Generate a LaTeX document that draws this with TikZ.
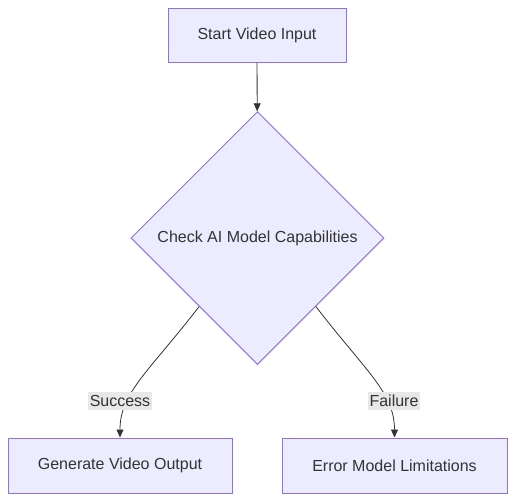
\documentclass[tikz,border=0pt]{standalone}
\usepackage{fontspec}
\setmainfont{Liberation Sans}
\usetikzlibrary{shapes.geometric,arrows.meta,calc}

\definecolor{boxfill}{HTML}{ECECFF}
\definecolor{boxline}{HTML}{9370DB}
\definecolor{ink}{HTML}{333333}
\definecolor{lblfill}{HTML}{E8E8E8}

\tikzset{every picture/.style={line width=0.75pt}}
\tikzset{
  stepbox/.style={draw=boxline, fill=boxfill, line width=1pt, text=ink,
    font=\fontsize{16}{19}\selectfont, inner sep=0pt},
  decision/.style={stepbox, diamond, aspect=1, minimum width=253pt, minimum height=253pt},
  edgelbl/.style={fill=lblfill, text=ink, font=\fontsize{16}{19}\selectfont,
    inner xsep=2pt, inner ysep=3.5pt},
  arr/.style={draw=ink, line width=0.8pt, -{Triangle[length=8pt,width=7pt]}}
}

\begin{document}
\begin{tikzpicture}[x=1pt,y=1pt]
  \useasboundingbox (0,0) rectangle (515,-501);

  % --- les noeuds ---
  \node[stepbox, minimum width=178pt, minimum height=54pt] (start) at (257,-35) {Start Video Input};
  \node[decision] (check) at (257.5,-238) {Check AI Model Capabilities};
  \node[stepbox, minimum width=224pt, minimum height=55pt] (gen) at (120,-465.5) {Generate Video Output};
  \node[stepbox, minimum width=225pt, minimum height=55pt] (err) at (394.5,-465.5) {Error Model Limitations};

  % --- les liens ---
  \draw[arr] (start) -- (check);
  \coordinate (cl) at ($(check.west)!0.54!(check.south)$);
  \coordinate (cr) at ($(check.east)!0.54!(check.south)$);
  \draw[arr] (cl) .. controls +(-50,-65) and +(0,45) .. (gen.north);
  \draw[arr] (cr) .. controls +(50,-65) and +(0,45) .. (err.north);

  % --- les etiquettes ---
  \node[edgelbl] (succ) at (120,-401) {Success};
  \node[edgelbl] (fail) at (394,-401) {Failure};
\end{tikzpicture}
\end{document}
